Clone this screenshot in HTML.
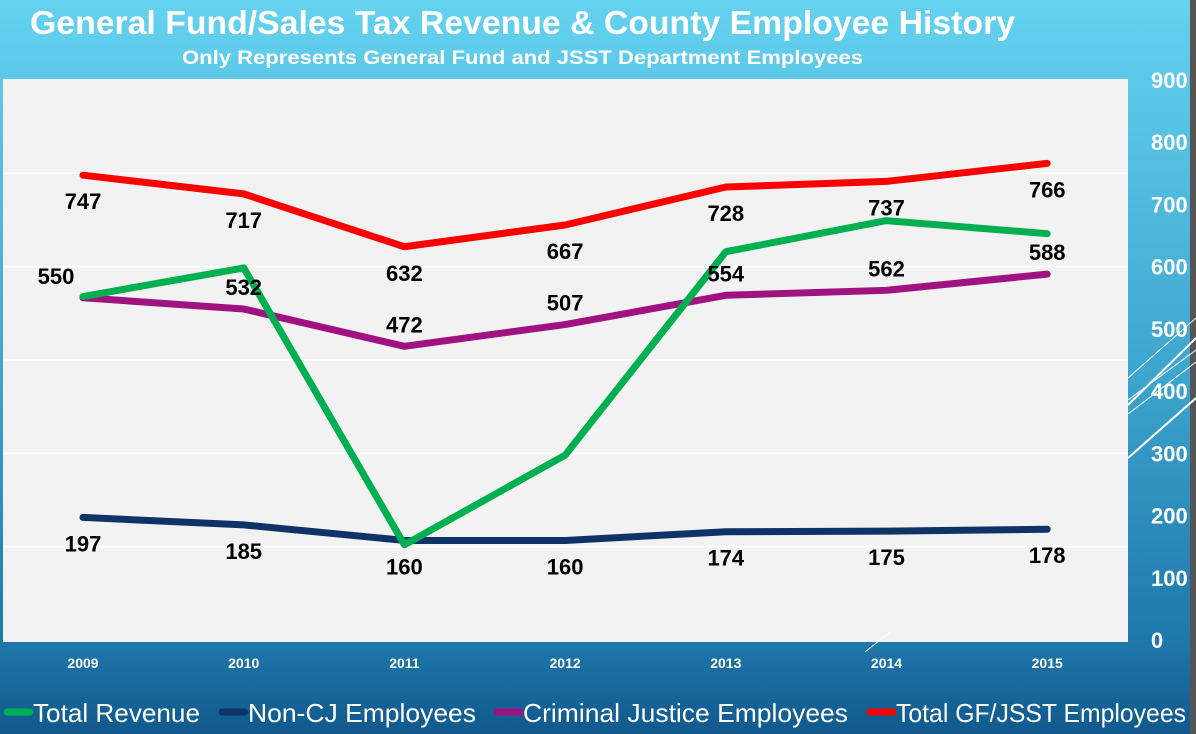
<!DOCTYPE html>
<html><head><meta charset="utf-8"><style>
html,body{margin:0;padding:0;width:1196px;height:734px;overflow:hidden}
svg{display:block;font-family:"Liberation Sans",sans-serif}
</style></head><body>
<svg id="chart" width="1196" height="734">
<defs>
<linearGradient id="bg" x1="0" y1="0" x2="0" y2="1">
<stop offset="0" stop-color="#64d2ef"/><stop offset="0.5" stop-color="#3ea6cf"/><stop offset="0.87" stop-color="#1f78ab"/><stop offset="1" stop-color="#10598c"/>
</linearGradient>
</defs>
<rect x="0" y="0" width="1196" height="734" fill="url(#bg)"/>
<rect x="1190" y="0" width="6" height="734" fill="#555"/>
<text x="30" y="34" font-size="33" font-weight="bold" fill="#fff" textLength="985" lengthAdjust="spacingAndGlyphs">General Fund/Sales Tax Revenue &amp; County Employee History</text>
<text x="182" y="64" font-size="19" font-weight="bold" fill="#fff" textLength="681" lengthAdjust="spacingAndGlyphs">Only Represents General Fund and JSST Department Employees</text>
<rect x="3" y="79" width="1125" height="563" fill="#f2f2f2"/>
<g stroke="#fff" stroke-width="2">
<line x1="1128" y1="458" x2="1196" y2="398"/><line x1="1128" y1="405" x2="1196" y2="338"/><line x1="1128" y1="400" x2="1196" y2="350" stroke-width="1"/><line x1="1128" y1="378" x2="1196" y2="318" stroke-width="1"/><line x1="1128" y1="414" x2="1196" y2="362" stroke-width="1"/>
<line x1="865" y1="652" x2="890" y2="632" stroke-width="1"/>
</g>
<g id="grid"></g><g id="axis"></g><g id="xaxis"></g><g id="series"></g><g id="labels"></g><g id="legend"></g>
</svg>
<script>
const years = ['2009','2010','2011','2012','2013','2014','2015'];
const totalRevenue = [552, 598, 153, 297, 624, 674, 653];
const nonCJ = [197, 185, 160, 160, 174, 175, 178];
const criminalJustice = [550, 532, 472, 507, 554, 562, 588];
const totalGF = [747, 717, 632, 667, 728, 737, 766];
const yTicks = [0,100,200,300,400,500,600,700,800,900];
const gridVals = [150,300,450,600,750];
const NS='http://www.w3.org/2000/svg';
function mk(tag, attrs, parent){const e=document.createElementNS(NS,tag);for(const k in attrs)e.setAttribute(k,attrs[k]);parent.appendChild(e);return e;}
const yS = v => 640 - v*(560/900);
const xS = i => 83 + i*160.7;
const grid=document.getElementById('grid');
gridVals.forEach(v=>{const l=mk('line',{x1:3,x2:1128,y1:yS(v),y2:yS(v),stroke:'#fff','stroke-width':1.5},grid);

});
const axis=document.getElementById('axis');
yTicks.forEach(v=>{const t=mk('text',{x:1151,y:yS(v)+8,'font-size':22,'font-weight':'bold',fill:'#fff'},axis);t.textContent=v;

});
const xa=document.getElementById('xaxis');
years.forEach((y,i)=>{const t=mk('text',{x:xS(i),y:668,'text-anchor':'middle','font-size':14,'font-weight':'bold',fill:'#fff'},xa);t.textContent=y;

});
const ser=document.getElementById('series');
function line(vals,color,name){const p=mk('polyline',{points:vals.map((v,i)=>xS(i)+','+yS(v)).join(' '),fill:'none',stroke:color,'stroke-width':7,'stroke-linecap':'round','stroke-linejoin':'round'},ser);

}
line(nonCJ,'#0f3366','non-cj-line');
line(criminalJustice,'#a0127f','criminal-justice-line');
line(totalRevenue,'#00b050','total-revenue-line');
line(totalGF,'#ff0000','total-gf-line');
const lab=document.getElementById('labels');
function labels(vals,dy,name,dxs){vals.forEach((v,i)=>{const t=mk('text',{x:xS(i)+(dxs?dxs[i]:0),y:yS(v)+dy,'text-anchor':'middle','font-size':22,'font-weight':'bold',fill:'#000'},lab);t.textContent=v;

});}
labels(totalGF,34,'total-gf-label');
labels(nonCJ,34,'non-cj-label');
labels(criminalJustice,-14,'criminal-justice-label',[-27,0,0,0,0,0,0]);
const lg=document.getElementById('legend');
const legItems=[['Total Revenue','#00b050',5,200],['Non-CJ Employees','#0f3366',220,476],['Criminal Justice Employees','#a0127f',495,848],['Total GF/JSST Employees','#ff0000',868,1186]];
legItems.forEach(([n,c,x0,x1])=>{const g=mk('g',{},lg);


mk('line',{x1:x0+2,x2:x0+25,y1:712,y2:712,stroke:c,'stroke-width':7,'stroke-linecap':'round'},g);
const t=mk('text',{x:x0+28,y:722,'font-size':26,fill:'#fff',textLength:x1-x0-28,lengthAdjust:'spacingAndGlyphs'},g);t.textContent=n;});
</script>
</body></html>
